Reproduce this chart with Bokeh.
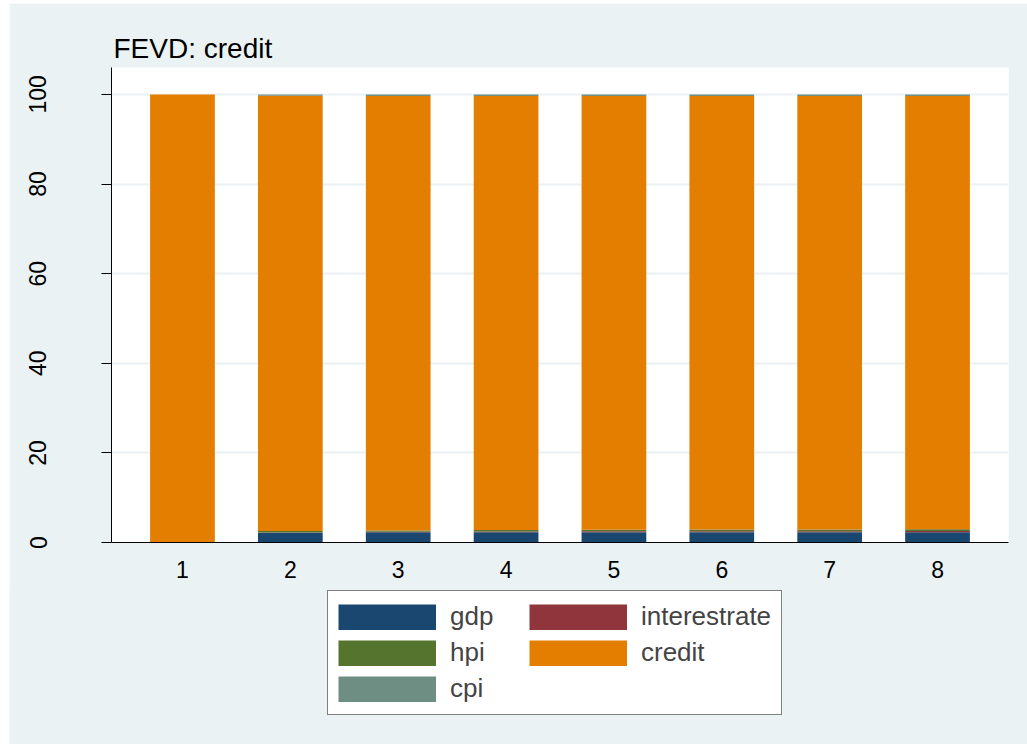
from bokeh.plotting import figure
from bokeh.models import ColumnDataSource, Legend, LegendItem, FixedTicker, Range1d
from bokeh.layouts import column
from bokeh.embed import file_html
from bokeh.resources import INLINE

# Data
steps = [1, 2, 3, 4, 5, 6, 7, 8]
gdp = [0.1, 2.2, 2.3, 2.3, 2.3, 2.3, 2.3, 2.3]
interestrate = [0.0, 0.05, 0.1, 0.15, 0.2, 0.2, 0.2, 0.25]
hpi = [0.0, 0.3, 0.3, 0.35, 0.35, 0.4, 0.4, 0.4]
cpi = [0.0, 0.3, 0.35, 0.35, 0.35, 0.35, 0.35, 0.35]
credit = [100 - g - i - h - c for g, i, h, c in zip(gdp, interestrate, hpi, cpi)]
y_ticks = [0, 20, 40, 60, 80, 100]

series = ["gdp", "interestrate", "hpi", "credit", "cpi"]
colors = {"gdp": "#1a476f", "interestrate": "#90353b", "hpi": "#55752f",
          "credit": "#e37e00", "cpi": "#6e8e84"}

src = ColumnDataSource(dict(x=steps, gdp=gdp, interestrate=interestrate, hpi=hpi,
                            credit=credit, cpi=cpi))

BG = "#eaf2f3"
FONT = "Liberation Sans"

# ---- main chart ----
p = figure(width=1018, height=588, output_backend="svg", toolbar_location=None,
           x_range=Range1d(0.342, 8.658), y_range=Range1d(0, 106),
           title="FEVD: credit")
p.margin = (3, 0, 0, 9)
p.frame_align = False
p.min_border_left = 102
p.min_border_right = 19
p.min_border_top = 64
p.min_border_bottom = 49

p.background_fill_color = "white"
p.border_fill_color = BG
p.outline_line_color = None

p.title.text_font = FONT
p.title.text_font_size = "28px"
p.title.text_font_style = "normal"
p.title.text_color = "black"
p.title.offset = 2
p.title.standoff = 7

p.vbar_stack(series, x="x", width=0.6, source=src,
             color=[colors[s] for s in series], line_color=None)

p.xaxis.ticker = FixedTicker(ticks=steps)
p.xaxis.major_tick_line_color = None
p.xaxis.minor_tick_line_color = None
p.xaxis.axis_line_color = "black"
p.xaxis.major_label_text_font = FONT
p.xaxis.major_label_text_font_size = "23px"
p.xaxis.major_label_text_color = "black"
p.xaxis.major_label_standoff = 12

p.yaxis.ticker = FixedTicker(ticks=y_ticks)
p.yaxis.major_tick_out = 10
p.yaxis.major_tick_in = 0
p.yaxis.minor_tick_line_color = None
p.yaxis.axis_line_color = "black"
p.yaxis.major_tick_line_color = "black"
p.yaxis.major_label_orientation = "vertical"
p.yaxis.major_label_text_font = FONT
p.yaxis.major_label_text_font_size = "23px"
p.yaxis.major_label_text_color = "black"
p.yaxis.major_label_standoff = 55

p.xgrid.grid_line_color = None
p.ygrid.grid_line_color = BG
p.ygrid.grid_line_width = 2
p.ygrid.ticker = FixedTicker(ticks=y_ticks)

# ---- legend strip: same series as thick off-view lines; only the legend shows ----
p2 = figure(width=1018, height=154, output_backend="svg", toolbar_location=None,
            x_range=Range1d(100, 101), y_range=Range1d(0, 1),
            x_axis_location=None, y_axis_location=None)
p2.margin = (-1, 0, 0, 9)
p2.frame_align = False
p2.min_border_left = 0
p2.min_border_right = 0
p2.min_border_top = 0
p2.min_border_bottom = 0
p2.background_fill_color = BG
p2.border_fill_color = BG
p2.outline_line_color = None
p2.xgrid.visible = False
p2.ygrid.visible = False

rmap = {}
for s in series:
    rmap[s] = p2.line(x="x", y=s, source=src, line_width=26, line_cap="butt",
                      color=colors[s])

# legend laid out column by column: gdp, hpi, cpi | interestrate, credit
items = [LegendItem(label=s, renderers=[rmap[s]]) for s in
         ["gdp", "hpi", "cpi", "interestrate", "credit"]]
legend = Legend(items=items, ncols=2, location=(318, 29),
                glyph_width=98, glyph_height=26, label_height=26, label_width=74,
                label_text_font=FONT, label_text_font_size="26px",
                label_standoff=14, spacing=5, padding=10,
                border_line_color="black", border_line_width=1,
                background_fill_color="white", background_fill_alpha=1,
                margin=0)
p2.add_layout(legend, "center")

layout = column(p, p2, spacing=0)
open("out.html", "w").write(file_html(layout, INLINE))
